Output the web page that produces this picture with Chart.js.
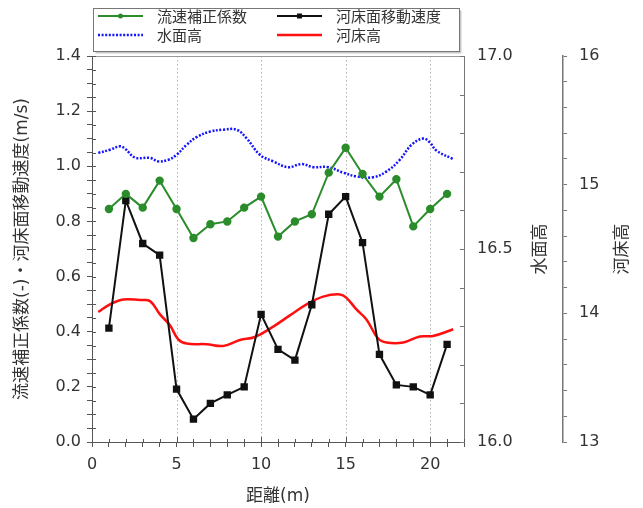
<!DOCTYPE html>
<html>
<head>
<meta charset="utf-8">
<script src="https://cdn.jsdelivr.net/npm/chart.js@4.4.0/dist/chart.umd.min.js"></script>
<style>
  html, body { margin: 0; padding: 0; background: #fff; }
  #wrap { width: 643px; height: 508px; }
</style>
</head>
<body>
<div id="wrap"><canvas id="chart" width="643" height="508"></canvas></div>
<script>
// 距離(m) の測点
const distance = [1, 2, 3, 4, 5, 6, 7, 8, 9, 10, 11, 12, 13, 14, 15, 16, 17, 18, 19, 20, 21];
// 流速補正係数(-)
const coefValues = [0.845, 0.90, 0.85, 0.948, 0.845, 0.74, 0.79, 0.80, 0.85, 0.89, 0.745, 0.80, 0.826, 0.977, 1.067, 0.972, 0.89, 0.953, 0.782, 0.845, 0.90];
// 河床面移動速度(m/s)
const bedSpeedValues = [0.413, 0.876, 0.72, 0.678, 0.192, 0.083, 0.14, 0.171, 0.20, 0.463, 0.336, 0.297, 0.498, 0.826, 0.89, 0.723, 0.318, 0.207, 0.20, 0.171, 0.354];
// 水面高
const waterX = [0.37, 1.06, 1.65, 1.95, 2.54, 3.43, 3.92, 4.51, 5.0, 5.6, 6.19, 6.97, 7.76, 8.55, 9.14, 9.93, 10.72, 11.6, 12.39, 13.08, 13.97, 14.85, 15.64, 16.63, 17.42, 18.2, 18.9, 19.58, 19.98, 20.37, 21.36];
const waterLevel = [16.749, 16.757, 16.766, 16.760, 16.737, 16.736, 16.727, 16.731, 16.744, 16.770, 16.790, 16.804, 16.809, 16.809, 16.787, 16.744, 16.727, 16.712, 16.720, 16.712, 16.712, 16.698, 16.688, 16.686, 16.701, 16.731, 16.770, 16.786, 16.776, 16.755, 16.733];
// 河床高
const bedX = [0.37, 1.06, 1.85, 2.84, 3.43, 4.02, 4.61, 5.1, 5.6, 6.78, 7.76, 8.75, 9.63, 10.72, 11.7, 12.69, 13.67, 14.66, 15.05, 15.64, 16.23, 16.92, 17.42, 18.4, 19.39, 20.17, 21.36];
const bedLevel = [14.01, 14.07, 14.108, 14.103, 14.095, 13.992, 13.907, 13.798, 13.765, 13.76, 13.747, 13.793, 13.816, 13.897, 13.984, 14.07, 14.13, 14.147, 14.12, 14.03, 13.953, 13.804, 13.773, 13.773, 13.82, 13.824, 13.876];

// 目盛ラベル
const xTickLabels = [0, 5, 10, 15, 20];
const leftTickLabels = [0.0, 0.2, 0.4, 0.6, 0.8, 1.0, 1.2, 1.4];
const waterTickLabels = [16.0, 16.5, 17.0];
const bedTickLabels = [13, 14, 15, 16];
const xGridLines = [5, 10, 15, 20];

const FONT = '"DejaVu Sans", "Noto Sans CJK JP", sans-serif';
const JP = '"Noto Sans CJK JP", "DejaVu Sans", sans-serif';
Chart.defaults.font.family = FONT;
Chart.defaults.color = '#333';

function hasLabel(list, v) {
  return list.some(t => Math.abs(t - v) < 1e-6);
}

const pairs = (xs, ys) => xs.map((x, i) => ({ x: x, y: ys[i] }));

const decor = {
  id: 'decor',
  beforeDatasetsDraw(chart) {
    const { ctx, chartArea: a, scales } = chart;
    ctx.save();
    ctx.strokeStyle = '#b5b5b5';
    ctx.lineWidth = 1;
    ctx.setLineDash([1.5, 2.5]);
    xGridLines.forEach(v => {
      const px = Math.round(scales.x.getPixelForValue(v)) + 0.5;
      ctx.beginPath();
      ctx.moveTo(px, a.top);
      ctx.lineTo(px, a.bottom);
      ctx.stroke();
    });
    ctx.restore();
  },
  afterDraw(chart) {
    const { ctx, chartArea: a, scales } = chart;
    ctx.save();
    // 枠
    ctx.strokeStyle = '#999';
    ctx.lineWidth = 1;
    ctx.beginPath();
    ctx.moveTo(a.left, Math.round(a.top) + 0.5);
    ctx.lineTo(a.right, Math.round(a.top) + 0.5);
    ctx.stroke();

    // 内向きの目盛
    ctx.strokeStyle = '#555';
    scales.y.ticks.forEach(t => {
      const py = Math.round(scales.y.getPixelForValue(t.value)) + 0.5;
      ctx.beginPath(); ctx.moveTo(a.left, py); ctx.lineTo(a.left + 4, py); ctx.stroke();
    });
    scales.x.ticks.forEach(t => {
      const px = Math.round(scales.x.getPixelForValue(t.value)) + 0.5;
      const len = hasLabel(xTickLabels, t.value) ? 5 : 3;
      ctx.beginPath(); ctx.moveTo(px, a.bottom); ctx.lineTo(px, a.bottom - len); ctx.stroke();
    });
    ctx.strokeStyle = '#777';
    scales.y1.ticks.forEach(t => {
      const py = Math.round(scales.y1.getPixelForValue(t.value)) + 0.5;
      ctx.beginPath(); ctx.moveTo(a.right, py); ctx.lineTo(a.right - 4, py); ctx.stroke();
    });

    // 右軸タイトル(下から上へ)
    ctx.fillStyle = '#333';
    ctx.font = '17px ' + JP;
    ctx.textAlign = 'center';
    ctx.textBaseline = 'middle';
    const cy = (a.top + a.bottom) / 2;
    [[scales.y1.right - 24, '水面高'], [scales.y2.right - 22, '河床高']].forEach(([tx, txt]) => {
      ctx.save();
      ctx.translate(tx, cy);
      ctx.rotate(-Math.PI / 2);
      ctx.fillText(txt, 0, 0);
      ctx.restore();
    });

    // 凡例
    const bx = 93.5, by = 8.5, bw = 366, bh = 43;
    ctx.fillStyle = '#c8c8c8';
    ctx.fillRect(bx + 2, by + 2, bw, bh);
    ctx.fillStyle = '#fff';
    ctx.fillRect(bx, by, bw, bh);
    ctx.strokeStyle = '#777';
    ctx.strokeRect(bx, by, bw, bh);
    const slots = [[98, 16], [277, 16], [98, 35], [277, 35]];
    chart.data.datasets.forEach((ds, i) => {
      const [lx, ly] = slots[i];
      ctx.save();
      ctx.strokeStyle = ds.borderColor;
      ctx.lineWidth = ds.borderWidth;
      ctx.setLineDash(ds.borderDash || []);
      ctx.beginPath(); ctx.moveTo(lx, ly); ctx.lineTo(lx + 45, ly); ctx.stroke();
      ctx.setLineDash([]);
      if (ds.pointRadius > 0) {
        ctx.fillStyle = ds.pointBackgroundColor;
        if (ds.pointStyle === 'rect') {
          ctx.fillRect(lx + 22.5 - 2.5, ly - 2.5, 5, 5);
        } else {
          ctx.beginPath(); ctx.arc(lx + 22.5, ly, 2.5, 0, Math.PI * 2); ctx.fill();
        }
      }
      ctx.restore();
      ctx.fillStyle = '#333';
      ctx.font = '15px ' + JP;
      ctx.textAlign = 'left';
      ctx.textBaseline = 'middle';
      ctx.fillText(ds.label, lx + 59, ly);
    });
    ctx.restore();
  }
};

new Chart(document.getElementById('chart'), {
  type: 'line',
  data: {
    datasets: [
      {
        label: '流速補正係数',
        data: pairs(distance, coefValues),
        yAxisID: 'y',
        borderColor: '#2a8c2a',
        backgroundColor: '#2a8c2a',
        pointBackgroundColor: '#2a8c2a',
        pointBorderColor: '#2a8c2a',
        borderWidth: 2,
        pointRadius: 3.2,
        pointStyle: 'circle'
      },
      {
        label: '河床面移動速度',
        data: pairs(distance, bedSpeedValues),
        yAxisID: 'y',
        borderColor: '#111',
        backgroundColor: '#111',
        pointBackgroundColor: '#111',
        pointBorderColor: '#111',
        borderWidth: 2,
        pointRadius: 3.8,
        pointStyle: 'rect'
      },
      {
        label: '水面高',
        data: pairs(waterX, waterLevel),
        yAxisID: 'y1',
        borderColor: '#1414ff',
        borderWidth: 2.5,
        borderDash: [2, 1.6],
        pointRadius: 0,
        tension: 0.4
      },
      {
        label: '河床高',
        data: pairs(bedX, bedLevel),
        yAxisID: 'y2',
        borderColor: '#ff1010',
        borderWidth: 2.5,
        pointRadius: 0,
        tension: 0.4
      }
    ]
  },
  options: {
    responsive: false,
    animation: false,
    devicePixelRatio: 1,
    layout: { padding: { top: 56, left: 0, right: 0, bottom: 0 } },
    plugins: { legend: { display: false }, tooltip: { enabled: false } },
    scales: {
      x: {
        type: 'linear',
        min: 0, max: 22,
        afterFit(s) { s.height = 66; },
        border: { color: '#555', width: 1 },
        grid: { drawOnChartArea: false, tickLength: 5, tickColor: '#555' },
        ticks: {
          stepSize: 1, autoSkip: false, maxRotation: 0, padding: 8,
          font: { size: 16 },
          callback: v => hasLabel(xTickLabels, v) ? String(v) : ''
        },
        title: { display: true, text: '距離(m)', font: { size: 17 }, padding: { top: 0, bottom: 1 } }
      },
      y: {
        position: 'left',
        min: 0, max: 1.4,
        afterFit(s) { s.width = 92; },
        border: { color: '#555', width: 1 },
        grid: { drawOnChartArea: false, tickLength: 5, tickColor: '#555' },
        ticks: {
          stepSize: 0.05, autoSkip: false, padding: 6,
          font: { size: 16 },
          callback: v => hasLabel(leftTickLabels, v) ? v.toFixed(1) : ''
        },
        title: { display: true, text: '流速補正係数(-)・河床面移動速度(m/s)', font: { size: 17 }, padding: { top: 12, bottom: 0 } }
      },
      y1: {
        position: 'right',
        weight: 0,
        min: 16, max: 17,
        afterFit(s) { s.width = 99; },
        border: { color: '#777', width: 1 },
        grid: { drawOnChartArea: false, drawTicks: false },
        ticks: {
          stepSize: 0.1, autoSkip: false, padding: 13,
          font: { size: 16 },
          callback: v => hasLabel(waterTickLabels, v) ? v.toFixed(1) : ''
        }
      },
      y2: {
        position: 'right',
        weight: 1,
        min: 13, max: 16,
        afterFit(s) { s.width = 80; },
        border: { color: '#777', width: 1.5 },
        grid: { drawOnChartArea: false, tickLength: 4, tickColor: '#777' },
        ticks: {
          stepSize: 0.2, autoSkip: false, padding: 12,
          font: { size: 16 },
          callback: v => hasLabel(bedTickLabels, v) ? String(Math.round(v)) : ''
        }
      }
    }
  },
  plugins: [decor]
});
</script>
</body>
</html>
